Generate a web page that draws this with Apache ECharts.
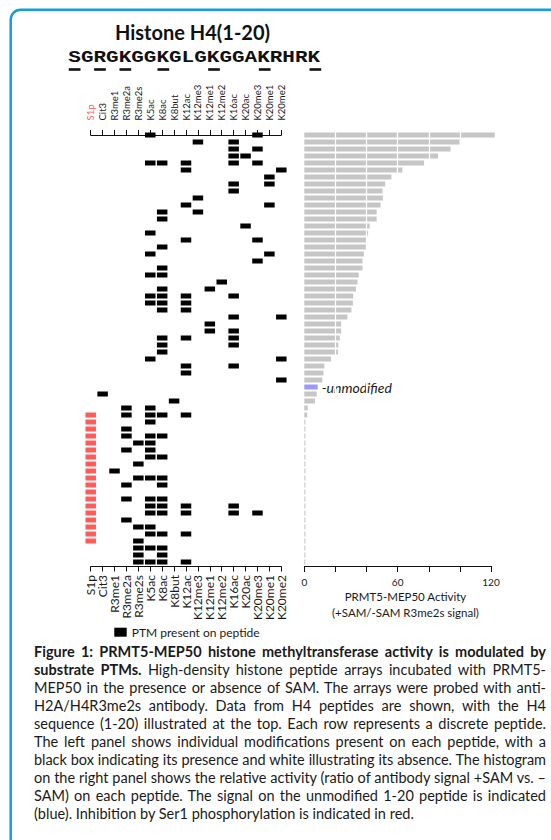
<!DOCTYPE html>
<html><head><meta charset="utf-8">
<script src="https://cdn.jsdelivr.net/npm/echarts/dist/echarts.min.js"></script>
<style>
html,body{margin:0;padding:0;background:#fff;}
#chart{position:absolute;left:0;top:0;width:551px;height:840px;}
#caption{position:absolute;left:34px;top:643px;width:512px;font-family:Lato,sans-serif;font-size:14.5px;line-height:18px;color:#1a1a1a;}
#caption div{text-align:justify;text-align-last:justify;}
#caption div.last{text-align-last:left;}
#caption b{font-weight:700;}
</style></head><body>
<div id="chart"></div>
<div id="caption">
<div><b>Figure 1: PRMT5-MEP50 histone methyltransferase activity is modulated by</b></div>
<div><b>substrate PTMs.</b> High-density histone peptide arrays incubated with PRMT5-</div>
<div>MEP50 in the presence or absence of SAM. The arrays were probed with anti-</div>
<div>H2A/H4R3me2s antibody. Data from H4 peptides are shown, with the H4</div>
<div>sequence (1-20) illustrated at the top. Each row represents a discrete peptide.</div>
<div>The left panel shows individual modifications present on each peptide, with a</div>
<div>black box indicating its presence and white illustrating its absence. The histogram</div>
<div>on the right panel shows the relative activity (ratio of antibody signal +SAM vs. –</div>
<div>SAM) on each peptide. The signal on the unmodified 1-20 peptide is indicated</div>
<div class="last">(blue). Inhibition by Ser1 phosphorylation is indicated in red.</div>
</div>
<script>
// ---------------- data ----------------
var titleText = 'Histone H4(1-20)';
var sequence = 'SGRGKGGKGLGKGGAKRHRK';
var underlinedResidues = [1, 3, 5, 8, 12, 16, 20];
var modNames = ['S1p','Cit3','R3me1','R3me2a','R3me2s','K5ac','K8ac','K8but','K12ac','K12me3','K12me1','K12me2','K16ac','K20ac','K20me3','K20me1','K20me2'];
var peptideMods = [
  ['K5ac','K20me3'],
  ['K12me3','K16ac'],
  ['K16ac','K20me3'],
  ['K16ac','K20ac'],
  ['K5ac','K8ac','K12ac','K16ac','K20me3'],
  ['K12ac','K20me2'],
  ['K20me1'],
  ['K16ac','K20me1'],
  ['K16ac'],
  ['K12me3'],
  ['K12ac','K20me1'],
  ['K8ac','K12me3'],
  ['K8ac'],
  ['K20ac'],
  ['K5ac'],
  ['K12ac','K20me3'],
  ['K8ac'],
  ['K5ac','K20me1'],
  ['K20me3'],
  ['K8ac'],
  ['K5ac','K8ac'],
  ['K12me2'],
  ['K8ac','K12me1'],
  ['K5ac','K8ac','K12ac','K16ac'],
  ['K5ac','K8ac','K12ac'],
  ['K8ac','K12ac'],
  ['K16ac','K20me2'],
  ['K12me1'],
  ['K12me1','K16ac'],
  ['K8ac','K12ac','K16ac'],
  ['K8ac','K16ac'],
  ['K8ac'],
  ['K5ac','K20me2'],
  ['K12ac','K16ac'],
  ['K12ac'],
  ['K20me2'],
  [],
  ['Cit3'],
  ['K8but'],
  ['R3me2a','K5ac'],
  ['S1p','R3me2a','K5ac','K8ac','K12ac'],
  ['S1p','K5ac'],
  ['S1p','R3me2a'],
  ['S1p','R3me2a','K5ac','K8ac'],
  ['S1p','R3me2s','K5ac'],
  ['S1p','R3me2a','K5ac'],
  ['S1p','K5ac','K8ac'],
  ['S1p','R3me2s'],
  ['S1p','R3me1'],
  ['S1p','R3me2s','K5ac','K8ac'],
  ['S1p','R3me2a','K8ac'],
  ['S1p'],
  ['S1p','R3me2a','K5ac','K8ac'],
  ['S1p','K5ac','K8ac','K12ac','K16ac'],
  ['S1p','K5ac','K8ac','K12ac','K16ac','K20me3'],
  ['S1p','R3me2a'],
  ['S1p','R3me2s','K5ac'],
  ['S1p','K5ac','K8ac','K12ac'],
  ['S1p','R3me2s'],
  ['R3me2s','K5ac','K8ac'],
  ['R3me2s','K8ac'],
  ['R3me2s','K5ac','K8ac','K12ac']
];
var activity = [
  122.4, 99.8, 94, 86, 77, 63, 56, 52, 50.3, 50.5,
  49, 46.5, 46.5, 42, 41, 40.2, 39.6, 38.3, 37.4, 37.4,
  35, 34.2, 33.2, 31.4, 31.2, 30.3, 27.7, 23.7, 23.7, 22.8,
  21.9, 21.7, 17.2, 12.9, 12.3, 11.6, 8.6, 8, 6.9, 2.2,
  1.9, 0.7, 0.7, 0.7, 0.7, 0.7, 0.7, 0.7, 0.7, 0.7,
  0.7, 0.7, 0.7, 0.7, 0.7, 0.7, 0.7, 0.7, 0.7, 0.7,
  0.7, 0.7
];
var activityTicks = [0, 60, 120];
var axisNameLines = ['PRMT5-MEP50 Activity', '(+SAM/-SAM R3me2s signal)'];
var legendText = 'PTM present on peptide';
var unmodifiedLabel = '-unmodified';

// ---------------- caption fitting (keep each printed line on one line) ----------------
(function () {
  var maxW = 511;
  var lines = document.querySelectorAll('#caption div');
  for (var i = 0; i < lines.length; i++) {
    var d = lines[i];
    d.style.display = 'inline-block';
    d.style.whiteSpace = 'nowrap';
    var w = d.getBoundingClientRect().width;
    var n = d.textContent.length;
    if (w > maxW) d.style.letterSpacing = (-(w - maxW + 2) / n).toFixed(3) + 'px';
    d.style.display = '';
    d.style.whiteSpace = '';
  }
})();

// ---------------- build ----------------
var FONT = 'Lato, sans-serif';
var cells = [];
peptideMods.forEach(function (mods, r) {
  mods.forEach(function (m) { cells.push([modNames.indexOf(m), r]); });
});
var rowIds = peptideMods.map(function (_, i) { return String(i); });
var barData = activity.map(function (v, i) {
  if (peptideMods[i].length === 0) {
    return {
      value: v,
      itemStyle: { color: '#9a9af8' },
      label: { show: true, position: 'right', distance: 4, formatter: unmodifiedLabel,
        fontFamily: FONT, fontStyle: 'italic', fontSize: 14, color: '#1a1a1a' }
    };
  }
  return v;
});

var seqX = 68.3, seqPitch = 12.67;
var graphics = [
  { type: 'rect', z: 0, silent: true,
    shape: { x: 10.7, y: 9.7, width: 640, height: 900, r: 10 },
    style: { fill: 'none', stroke: '#169be0', lineWidth: 2.5 } },
  { type: 'text', x: 192.5, y: 31.5, silent: true,
    style: { text: titleText, font: 'bold 20px ' + FONT, fill: '#111', align: 'center', verticalAlign: 'middle' } },
  { type: 'text', x: seqX, y: 58, scaleY: 0.8, silent: true,
    style: { text: sequence, font: 'bold 21px "Liberation Mono", monospace', fill: '#111', align: 'left', verticalAlign: 'middle' } },
  { type: 'rect', x: 114.3, y: 627.7, silent: true, shape: { width: 12.4, height: 9 }, style: { fill: '#000' } },
  { type: 'text', x: 131.7, y: 632.5, silent: true,
    style: { text: legendText, font: '12px ' + FONT, fill: '#1a1a1a', align: 'left', verticalAlign: 'middle' } }
];
underlinedResidues.forEach(function (pos) {
  graphics.push({ type: 'rect', x: seqX + (pos - 1) * seqPitch + 0.5, y: 68.2, silent: true,
    shape: { width: 11.7, height: 2.6 }, style: { fill: '#111' } });
});
axisNameLines.forEach(function (t, i) {
  graphics.push({ type: 'text', x: 405.5, y: 596.7 + i * 15.6, silent: true,
    style: { text: t, font: '11.5px ' + FONT, fill: '#1a1a1a', align: 'center', verticalAlign: 'middle' } });
});

var chart = echarts.init(document.getElementById('chart'), null, { renderer: 'svg' });
chart.setOption({
  animation: false,
  backgroundColor: '#fff',
  grid: [
    { left: 90.7, top: 131.5, width: 190.6, height: 434 },
    { left: 304.3, top: 131.5, width: 186.7, height: 434 }
  ],
  xAxis: [
    { type: 'value', gridIndex: 0, position: 'top', offset: 3.5, min: 0, max: modNames.length - 1, interval: 1,
      axisLine: { show: true, lineStyle: { color: '#111', width: 1 } },
      axisTick: { show: true, length: 5, lineStyle: { color: '#111', width: 1 } },
      splitLine: { show: false },
      axisLabel: { rotate: 90, margin: 7.5, fontSize: 9.5, fontFamily: FONT,
        formatter: function (v) { return modNames[v] || ''; },
        color: function (v) { return Number(v) === 0 ? '#ff5b5b' : '#1a1a1a'; } } },
    { type: 'value', gridIndex: 0, position: 'bottom', offset: 1, min: 0, max: modNames.length - 1, interval: 1,
      axisLine: { show: true, lineStyle: { color: '#111', width: 1 } },
      axisTick: { show: true, length: 5, lineStyle: { color: '#111', width: 1 } },
      splitLine: { show: false },
      axisLabel: { rotate: 90, margin: 8.5, fontSize: 12, fontFamily: FONT, color: '#1a1a1a',
        formatter: function (v) { return modNames[v] || ''; } } },
    { type: 'value', gridIndex: 1, position: 'bottom', offset: 0.5, min: 0, max: 120, interval: 20, z: 10,
      axisLine: { show: true, lineStyle: { color: '#111', width: 1 } },
      axisTick: { show: true, length: 6, lineStyle: { color: '#111', width: 1 } },
      splitLine: { show: false },
      axisLabel: { margin: 11, fontSize: 10, fontFamily: FONT, color: '#1a1a1a',
        formatter: function (v) { return activityTicks.indexOf(v) >= 0 ? String(v) : ''; } } }
  ],
  yAxis: [
    { type: 'value', gridIndex: 0, inverse: true, min: -0.5, max: peptideMods.length - 0.5, show: false, splitLine: { show: false } },
    { type: 'category', gridIndex: 1, inverse: true, data: rowIds, show: false }
  ],
  series: [
    { type: 'scatter', xAxisIndex: 0, yAxisIndex: 0, data: cells, symbol: 'rect', symbolSize: [10.5, 5],
      itemStyle: { color: function (p) { return p.data[0] === 0 ? '#ff5b5b' : '#000'; }, opacity: 1 },
      emphasis: { disabled: true } },
    { type: 'bar', xAxisIndex: 2, yAxisIndex: 1, data: barData, barWidth: 5, clip: false,
      itemStyle: { color: '#c6c6c6' },
      emphasis: { disabled: true },
      markLine: { silent: true, symbol: 'none', animation: false, label: { show: false },
        lineStyle: { color: '#fff', width: 1.2, type: 'solid' },
        emphasis: { disabled: true },
        data: [{ xAxis: 20 }, { xAxis: 40 }, { xAxis: 60 }, { xAxis: 80 }, { xAxis: 100 }] } }
  ],
  graphic: graphics
});
</script>
</body></html>
